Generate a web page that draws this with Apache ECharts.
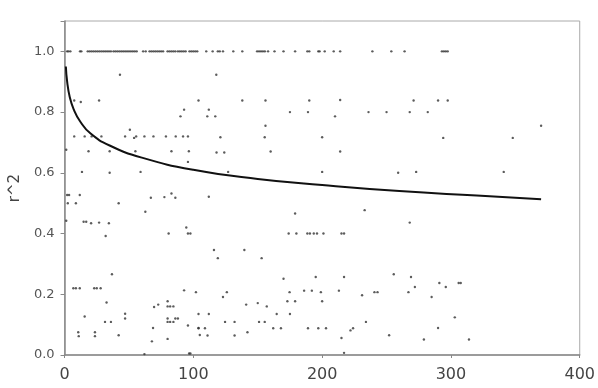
<!DOCTYPE html>
<html>
<head>
<meta charset="utf-8">
<script src="https://cdn.jsdelivr.net/npm/echarts@6/dist/echarts.min.js"></script>
<style>
  html, body { margin: 0; padding: 0; background: #fff; }
  #chart { width: 598px; height: 388px; }
</style>
</head>
<body>
<div id="chart"></div>
<script>
// x positions of the points sitting on r^2 = 1.0
const onesX = [
  2, 3, 4.5, 12, 13, 18, 19.5, 21, 22.5, 24, 25.5, 27, 28.5, 30, 31.5, 33, 34.5, 36,
  38, 39.5, 41, 42.5, 44, 45.5, 47, 48.5, 50, 51.5, 53, 54.5, 56, 61, 63,
  66, 67.5, 69, 70.5, 72, 73.5, 75, 76.5, 80, 81.5, 83, 84.5, 86,
  88, 89.5, 91, 92.5, 94, 97, 98.5, 100, 101.5, 103,
  110, 115, 119, 120.5, 123, 131, 138, 149.5, 151, 152.5, 154, 155.5, 158, 163, 170,
  179, 188.5, 190, 197, 198, 202, 209, 214, 239, 253.7, 264, 293, 294.5, 296, 297.5
];

// remaining scatter points [x, r^2]
const scatterPts = [
  [43, 0.923], [117.8, 0.923],
  [7.5, 0.838], [12.6, 0.833], [26.8, 0.838], [104, 0.838], [138, 0.838], [156, 0.838],
  [190, 0.838], [214, 0.84], [271, 0.838], [290, 0.838], [297.5, 0.838],
  [112, 0.808], [92.8, 0.808], [90, 0.786], [110.8, 0.786], [117, 0.786], [175, 0.8],
  [189, 0.8], [210, 0.786], [236, 0.8], [250, 0.8], [268, 0.8], [282, 0.8],
  [156, 0.755], [370, 0.755], [50.7, 0.742], [54, 0.715],
  [7.5, 0.72], [15.6, 0.72], [21, 0.72], [28.6, 0.72], [47, 0.72], [55.6, 0.72], [62, 0.72],
  [69, 0.72], [78.7, 0.72], [86.3, 0.72], [92, 0.72], [95.8, 0.72],
  [121, 0.717], [155.4, 0.717], [200, 0.717], [294, 0.715], [348, 0.715],
  [1.3, 0.676], [18.6, 0.671], [35, 0.671], [55, 0.671], [83, 0.671], [96.5, 0.671],
  [118, 0.667], [124, 0.667], [160, 0.67], [214, 0.67], [95.8, 0.636],
  [13.5, 0.603], [35, 0.6], [59, 0.603], [127, 0.603], [200, 0.603], [259, 0.6],
  [273, 0.603], [341, 0.603],
  [2, 0.527], [3.5, 0.527], [11.8, 0.527], [2.5, 0.5], [8.8, 0.5], [42, 0.5], [67, 0.518],
  [77.5, 0.52], [83, 0.532], [86, 0.518], [112, 0.521], [62.7, 0.472], [179, 0.466],
  [233, 0.477],
  [1.3, 0.442], [14.8, 0.439], [16.8, 0.439], [20.6, 0.434], [26.8, 0.436], [34.4, 0.434],
  [268, 0.436], [94.5, 0.42], [31.9, 0.392], [80.8, 0.4], [95.8, 0.4], [97.7, 0.4],
  [174, 0.4], [180, 0.4], [188.5, 0.4], [190.5, 0.4], [193.5, 0.4], [196, 0.4],
  [201, 0.4], [215, 0.4], [217, 0.4],
  [116, 0.346], [139.6, 0.346], [119, 0.319], [153, 0.319],
  [36.8, 0.266], [255.6, 0.266], [170, 0.251], [195, 0.257], [217, 0.257], [269, 0.257],
  [291, 0.237], [306, 0.237], [307.6, 0.237], [296, 0.224], [272, 0.224],
  [6.8, 0.22], [8.8, 0.22], [11.8, 0.22], [23, 0.22], [25, 0.22], [28, 0.22],
  [92.8, 0.213], [102, 0.207], [126, 0.207], [174.7, 0.207], [186, 0.212], [192, 0.212],
  [199, 0.207], [213, 0.212], [240.6, 0.207], [243, 0.207], [267, 0.207],
  [123, 0.191], [231, 0.197], [285, 0.191],
  [32.6, 0.173], [80, 0.177], [173, 0.177], [179, 0.177], [200, 0.177],
  [69.5, 0.158], [72.7, 0.166], [80, 0.16], [82, 0.16], [84.5, 0.16], [141, 0.166],
  [150, 0.171], [157, 0.16],
  [47, 0.136], [104, 0.135], [112, 0.135], [164.7, 0.135], [175, 0.135], [15.6, 0.127],
  [47, 0.12], [80, 0.12], [86, 0.12], [88, 0.12], [303, 0.124],
  [31.4, 0.109], [36, 0.109], [80, 0.109], [82, 0.109], [84.5, 0.109], [124.6, 0.109],
  [132, 0.109], [151, 0.109], [155.4, 0.109], [234, 0.109],
  [95.8, 0.097], [68.7, 0.089], [104, 0.089], [104, 0.088], [109, 0.088], [162, 0.088],
  [168, 0.088], [189, 0.088], [197, 0.088], [203, 0.088], [224, 0.088], [222, 0.081],
  [290, 0.089],
  [10.6, 0.075], [23.6, 0.075], [11, 0.062], [23.6, 0.062], [42, 0.065], [105, 0.066],
  [111, 0.064], [132, 0.064], [142, 0.075], [252, 0.065], [215, 0.056],
  [67.8, 0.045], [80, 0.053], [279, 0.051], [314, 0.051],
  [62, 0.003], [96.7, 0.005], [97.7, 0.005], [217, 0.007]
];

// logarithmic trend line
const trendX = [1, 2, 4, 7, 12, 20, 35, 60, 100, 150, 200, 260, 320, 370];
const trendY = [0.95, 0.90, 0.85, 0.81, 0.77, 0.73, 0.69, 0.65, 0.61, 0.58, 0.56, 0.54, 0.525, 0.513];

const chart = echarts.init(document.getElementById("chart"));

const dots = onesX.map(x => [x, 1.0]).concat(scatterPts);
const trend = trendX.map((x, i) => [x, trendY[i]]);

chart.setOption({
  animation: false,
  backgroundColor: "#fff",
  grid: {
    left: 59,
    right: 6,
    top: 21,
    bottom: 33,
    show: true,
    borderColor: "#aaa",
    borderWidth: 1
  },
  xAxis: {
    type: "value",
    min: 0,
    max: 400,
    interval: 100,
    axisLine: { lineStyle: { color: "#888", width: 1.5 } },
    axisTick: { show: true, length: 3, lineStyle: { color: "#888" } },
    axisLabel: {
      color: "#444",
      fontSize: 16,
      fontFamily: "DejaVu Sans",
      margin: 12
    },
    splitLine: { show: false }
  },
  yAxis: {
    type: "value",
    min: 0,
    max: 1.1,
    interval: 0.2,
    name: "r^2",
    nameLocation: "middle",
    nameGap: 33,
    nameTextStyle: { color: "#444", fontSize: 15, fontFamily: "DejaVu Sans" },
    axisLine: { show: true, lineStyle: { color: "#888", width: 1.5 } },
    axisTick: { show: true, length: 4, lineStyle: { color: "#888" } },
    axisLabel: {
      color: "#555",
      fontSize: 13,
      fontFamily: "DejaVu Sans",
      margin: 10,
      formatter: v => (v > 1.05 ? "" : v.toFixed(1))
    },
    splitLine: { show: false }
  },
  series: [
    {
      type: "scatter",
      data: dots,
      symbol: "circle",
      symbolSize: 2.4,
      itemStyle: { color: "#333" },
      silent: true
    },
    {
      type: "line",
      data: trend,
      smooth: true,
      showSymbol: false,
      lineStyle: { color: "#111", width: 2 },
      silent: true
    }
  ]
});
</script>
</body>
</html>
